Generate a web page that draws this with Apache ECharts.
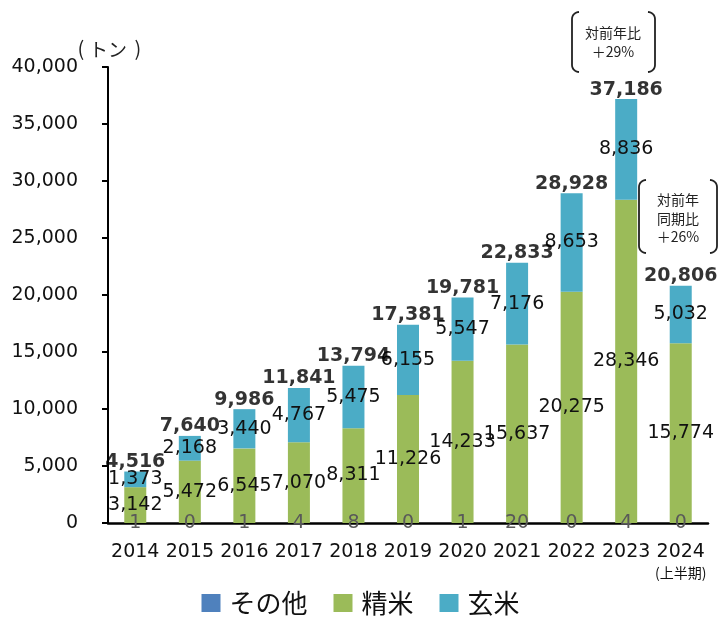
<!DOCTYPE html>
<html>
<head>
<meta charset="utf-8">
<script src="https://cdn.jsdelivr.net/npm/echarts@6/dist/echarts.min.js"></script>
<style>
  html, body { margin: 0; padding: 0; background: #fff; }
  #chart { width: 721px; height: 621px; }
</style>
</head>
<body>
<div id="chart"></div>
<script>
// Annual volumes in tonnes
const years = ['2014', '2015', '2016', '2017', '2018', '2019', '2020', '2021', '2022', '2023', '2024'];
const other = [1, 0, 1, 4, 8, 0, 1, 20, 0, 4, 0];                                              // その他
const milled = [3142, 5472, 6545, 7070, 8311, 11226, 14233, 15637, 20275, 28346, 15774];       // 精米
const brown = [1373, 2168, 3440, 4767, 5475, 6155, 5547, 7176, 8653, 8836, 5032];              // 玄米
const totals = years.map((_, i) => other[i] + milled[i] + brown[i]);

const FONT = '"DejaVu Sans", "Noto Sans CJK JP", sans-serif';
const JP = '"Noto Sans CJK JP", "DejaVu Sans", sans-serif';
const fmt = v => v.toLocaleString('en-US');

const chart = echarts.init(document.getElementById('chart'), null, { renderer: 'canvas' });

// One side of a round bracket: a vertical stroke whose ends curl toward the text
function side(x, y0, y1, dir) {
  const r = 7, arcTop = [], arcBot = [];
  for (let k = 0; k <= 8; k++) {
    const a = (Math.PI / 2) * (k / 8);
    arcTop.push([x + dir * r * (1 - Math.sin(a)), y0 + r * (1 - Math.cos(a))]);
    arcBot.push([x + dir * r * (1 - Math.cos(a)), y1 - r + r * Math.sin(a)]);
  }
  return {
    type: 'polyline',
    shape: { points: arcTop.concat(arcBot) },
    style: { fill: null, stroke: '#222', lineWidth: 1.8 }
  };
}
function bracket(x0, x1, y0, y1) {
  return [side(x0, y0, y1, 1), side(x1, y0, y1, -1)];
}
function note(x, y, text, size) {
  return { type: 'text', x: x, y: y,
    style: { text: text, font: (size || 14) + 'px ' + JP, fill: '#222', textAlign: 'center', textVerticalAlign: 'middle' } };
}

const option = {
  animation: false,
  textStyle: { fontFamily: FONT },
  grid: { left: 108, right: 13, top: 67, bottom: 98, containLabel: false },
  legend: {
    bottom: 0,
    left: 'center',
    itemWidth: 19,
    itemHeight: 18,
    itemGap: 26,
    icon: 'rect',
    textStyle: { fontFamily: JP, fontSize: 26, color: '#111', padding: [0, 0, 0, 4] },
    data: ['その他', '精米', '玄米']
  },
  xAxis: {
    type: 'category',
    data: years,
    axisLine: { lineStyle: { color: '#000', width: 2.5 } },
    axisTick: { show: false },
    axisLabel: {
      interval: 0,
      hideOverlap: false,
      margin: 20,
      fontSize: 19,
      color: '#111',
      fontFamily: FONT,
      formatter: v => v === '2024' ? '2024\n{s|(上半期)}' : v,
      rich: { s: { fontSize: 14, fontFamily: JP, color: '#111', lineHeight: 20, padding: [2, 0, 0, 0] } }
    }
  },
  yAxis: {
    type: 'value',
    min: 0,
    max: 40000,
    interval: 5000,
    splitLine: { show: false },
    axisLine: { show: true, lineStyle: { color: '#000', width: 2 } },
    axisTick: { show: true, inside: false, length: 6, lineStyle: { color: '#000', width: 2 } },
    axisLabel: { margin: 30, fontSize: 19, color: '#111', fontFamily: FONT, formatter: v => fmt(v) }
  },
  series: [
    {
      name: 'その他', type: 'bar', stack: 'total', data: other, barWidth: 22,
      itemStyle: { color: '#4F81BD' },
      label: { show: true, position: 'inside', fontSize: 19, color: '#595959', fontFamily: FONT, formatter: p => fmt(p.value) }
    },
    {
      name: '精米', type: 'bar', stack: 'total', data: milled, barWidth: 22,
      itemStyle: { color: '#9BBB59' },
      label: { show: true, position: 'inside', fontSize: 19, color: '#111', fontFamily: FONT, formatter: p => fmt(p.value) }
    },
    {
      name: '玄米', type: 'bar', stack: 'total', data: brown, barWidth: 22,
      itemStyle: { color: '#4BACC6' },
      label: { show: true, position: 'inside', fontSize: 19, color: '#111', fontFamily: FONT, formatter: p => fmt(p.value) }
    },
    {
      name: '合計', type: 'scatter', data: totals, symbolSize: 0, silent: true,
      label: { show: true, position: 'top', distance: 0, fontSize: 19, fontWeight: 'bold', color: '#000', fontFamily: FONT, formatter: p => fmt(p.value) }
    }
  ],
  graphic: [
    // unit label "(トン)"
    note(81, 48, '(', 20),
    note(108, 50, 'トン', 19),
    note(138, 48, ')', 20),
    ...bracket(572, 655, 12, 72),
    note(613, 33, '対前年比'),
    note(613, 52, '＋29%'),
    ...bracket(639, 717, 180, 253),
    note(678, 200, '対前年'),
    note(678, 219, '同期比'),
    note(678, 237, '＋26%')
  ]
};

chart.setOption(option);
</script>
</body>
</html>
